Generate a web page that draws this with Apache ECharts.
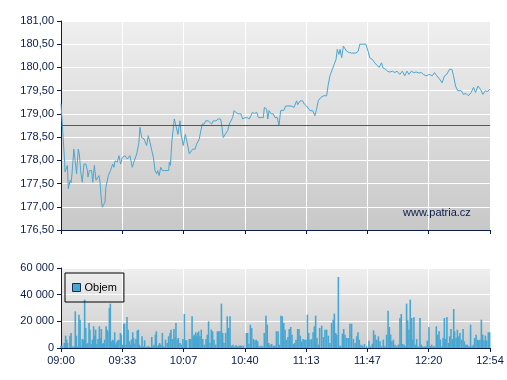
<!DOCTYPE html>
<html>
<head>
<meta charset="utf-8">
<script src="https://cdn.jsdelivr.net/npm/echarts@6/dist/echarts.min.js"></script>
<style>
html,body{margin:0;padding:0;background:#fff;}
#chart{width:507px;height:380px;}
</style>
</head>
<body>
<div id="chart"></div>
<script>
// ---- Data ----
// x-axis tick labels (session 09:00 - 12:54, 7 equal intervals)
var timeTicks = ["09:00","09:33","10:07","10:40","11:13","11:47","12:20","12:54"];
var sessionMinutes = 234;
// price: minutes after 09:00, price
var priceTimes = [0,1,2,2.2,3.5,4,5,5.5,6,7,8,8.5,9.4,10,10.7,11.6,12.5,13.6,14.4,14.7,15.5,16.7,17.3,18.2,19.1,20,20.7,21.3,21.8,22.5,23.5,24,24.5,25.8,27,28.2,28.9,29.5,30.7,31.6,32.5,33.4,34.9,36.2,37.6,38.9,40,41.3,42.4,43.1,44,45.3,46.7,47.6,48.5,49.5,50.4,51.3,52.2,52.7,53.5,54.4,55.3,56.5,57.5,58.7,59.1,59.7,60.5,61.1,61.8,62.7,63.8,64.9,65.5,66.7,67.8,68.6,70,70.7,71.8,73.1,74,74.5,75.4,76.2,77,78.1,78.9,80.3,81.3,82.2,83,84.5,85.8,87.1,87.8,88.5,89.6,90.9,91.8,92.6,93.6,94.4,95.5,96.7,98.2,99.1,100.4,101.6,102.7,103.5,104.4,105.5,106.8,107.6,110.4,110.9,112.2,112.8,113.5,114.6,115.8,116.7,118,118.9,119.8,121.6,122.5,123.6,124.5,125.5,126.2,127.1,128.5,129.1,130.4,131.8,132.7,134,134.9,135.8,137.3,138.5,139.4,140.3,141.6,142.5,143.2,144.9,145.8,146.7,148,148.9,150,150.7,151.6,152.2,153.1,154,154.5,155.8,157.2,158.5,160.9,162.1,163,166.3,167.5,168.4,169.9,171.1,172.1,173.5,174.8,175.6,177,178.1,179.3,180.8,182.1,183.3,184.8,186.2,187.5,188.7,189.8,191.1,192.3,193.8,195.2,196.5,197.7,199.2,201,202.5,203.7,205,206.5,207.9,209.2,210.4,211.9,213.2,214.1,215.2,216.4,218.3,219.5,221,222.2,223.7,225,226.1,227.4,228.8,230.1,231.4,232.5,234];
var prices = [179.22,178.6,177.95,177.75,177.89,177.39,177.57,177.52,177.71,178.24,178.24,177.71,178.24,178.14,177.78,177.53,177.92,177.92,177.78,177.64,177.78,177.78,177.53,177.89,177.57,177.57,177.67,177.53,177.24,176.99,176.99,177.1,177.42,177.67,177.78,177.92,177.85,177.99,177.96,178.1,177.92,178.06,178.1,178.03,178.1,177.85,177.99,178.14,178.35,178.71,178.49,178.46,178.32,178.53,178.39,178.39,178.06,177.78,177.71,177.78,177.67,177.85,177.78,177.78,177.78,177.78,177.96,177.89,178.42,178.46,178.89,178.85,178.56,178.85,178.56,178.32,178.56,178.42,178.14,178.14,178.24,178.24,178.35,178.32,178.46,178.49,178.78,178.78,178.85,178.85,178.89,178.78,178.85,178.85,178.89,178.89,178.71,178.49,178.56,178.64,178.78,178.78,178.92,179.07,179.03,179.0,179.0,178.89,178.92,178.92,178.89,178.85,179.03,179.01,179.03,178.92,178.92,179.14,179.1,178.89,179.07,179.0,179.0,178.92,178.92,178.74,179.07,179.08,179.17,179.17,179.14,179.17,179.21,179.14,179.28,179.2,179.28,179.28,179.21,179.17,179.14,179.07,179.07,178.96,179.1,179.28,179.35,179.35,179.39,179.39,179.64,179.82,179.96,179.92,180.17,180.39,180.28,180.39,180.21,180.46,180.5,180.35,180.32,180.31,180.31,180.35,180.5,180.5,180.35,180.21,180.17,180.1,180.13,180.0,180.1,179.99,179.96,179.92,179.9,179.92,179.89,179.92,179.85,179.92,179.82,179.92,179.85,179.92,179.89,179.9,179.88,179.89,179.85,179.82,179.85,179.82,179.89,179.82,179.75,179.67,179.82,179.85,179.96,179.96,179.82,179.6,179.5,179.5,179.42,179.44,179.39,179.46,179.57,179.46,179.6,179.53,179.42,179.5,179.48,179.53];
var previousClose = 178.75;
// volume: minutes after 09:00, traded volume
var volumeTimes = [0,0.6,1.8,2.5,3.1,3.6,4.9,5.5,6,7.1,7.8,8.4,9.1,9.8,10.4,10.9,11.6,12.2,12.9,13.5,14,14.7,15.3,15.8,16.4,17.1,17.8,18.4,18.9,19.6,20.2,20.9,21.5,22,22.6,23.1,23.8,24.6,25.1,25.6,26.4,26.9,27.5,28.2,28.7,29.3,29.8,30.4,30.9,31.6,32.4,32.9,33.6,34.2,34.7,35.5,36,36.6,37.3,37.8,38.4,39.1,39.6,40.2,40.9,41.6,42.2,42.7,43.5,44.2,44.9,45.6,46.4,47.1,47.8,48.6,49.5,50,50.7,51.5,52,52.6,53.3,53.8,54.5,55.3,56,57,58,58.7,59.5,60,60.7,61.6,62.2,62.7,63.5,64,64.9,65.8,66.5,67.3,67.8,68.5,70,70.7,71.5,72.2,72.7,73.5,74,74.5,75.1,75.8,76.5,77.3,78.2,79.1,79.8,80.5,81.3,82,82.7,83.5,84.4,85.3,86,86.7,87.5,88.2,88.9,89.8,90.7,91.5,92.2,92.9,93.8,94.7,95.5,96.2,97.1,97.8,98.5,99.5,101.1,101.8,102.5,103.3,104,104.9,105.8,106.5,107.3,108,109.1,110,110.9,111.8,112.5,113.3,114,114.9,115.8,116.7,117.5,118.4,119.1,120,120.7,121.5,122.2,122.9,123.8,124.5,125.3,126,126.7,127.5,128.2,129.1,129.8,130.5,131.3,132,132.7,133.6,134.4,135.1,135.8,136.7,137.5,138.2,138.9,139.6,140.4,141.1,142.2,143.1,144,144.9,145.8,146.7,147.6,148.5,149.1,149.8,150.4,151.3,151.8,152.5,153.5,154.2,154.9,155.8,156.7,157.6,158.5,159.5,160.4,161.3,162,162.7,163.6,164.5,165.5,166.7,168,168.9,169.8,170.5,171.3,172.2,173.1,174,174.9,175.8,176.7,177.6,178.4,179.1,179.8,180.5,181.3,182.2,183.1,184,184.9,185.6,186.4,187.1,187.8,188.5,189.1,189.8,190.5,191.3,191.8,192.5,193.3,194,194.9,195.8,196.5,197.3,198.2,199.1,199.8,200.7,201.4,202.2,203.1,203.8,204.7,205.5,206.2,206.9,207.8,208.4,209.1,209.8,210.5,211.3,212,212.7,213.5,214.2,214.7,215.5,216.2,216.9,217.6,218.5,219.3,220,220.9,221.6,222.5,223.4,224.2,224.9,225.6,226.4,227.1,227.8,228.5,229.3,230,230.7,231.5,232.2,233.1,233.8];
var volumes = [1750,1750,3750,9250,6250,3750,9250,11250,1250,1250,27500,9250,1250,25000,21250,1250,6750,6250,36250,15000,3000,3750,18750,13750,3000,6250,16250,9250,13750,3000,6750,16250,7500,14250,3000,3750,6250,16250,13750,12500,30000,33250,5000,6250,5000,11750,2500,4250,5750,6250,11250,10000,2500,18250,18250,2500,23250,13750,5000,2500,6250,11750,7500,3250,6750,13000,13750,2500,1250,8750,1250,5750,750,1250,1250,750,8250,1250,2500,10000,12500,1250,2500,3750,2500,11250,1250,6250,3750,8750,11250,13750,6750,14250,8250,18750,6250,7500,3750,2500,6750,25500,5750,5750,6750,6750,23750,8750,10000,11750,8750,11250,12500,8750,13750,6750,2500,6750,10000,20000,3750,13750,12500,6250,2500,12500,12500,12500,33250,11250,3750,11250,23750,15000,23750,1750,2500,1250,2000,1250,1750,1750,1750,1750,11250,11250,3250,17500,15000,6750,5750,6250,5000,1250,1750,1250,11250,24250,17500,3750,2500,3000,1750,1750,12500,12500,2500,24250,23750,18750,13750,6250,8250,14250,15750,10000,3000,3750,6250,14250,14250,9250,5000,6750,6250,6250,25000,11250,6250,6750,11750,16250,24250,7500,2500,15000,16750,8250,13750,13750,9250,3750,18750,21250,25750,11250,10000,53250,1250,1750,10750,14250,10000,7500,7500,18250,18250,6750,3750,8750,11750,6250,2500,1750,3000,1250,5500,1250,3250,13250,10000,6250,8750,5000,1250,6250,1250,10000,28000,15750,10000,5000,6250,2500,1250,2500,22500,25500,3000,2500,1250,33250,20750,13750,36250,22500,6250,23000,2500,6750,1250,22500,2500,1250,1250,1250,5500,15750,1250,2500,1250,1250,16250,10000,12500,6250,1250,7500,22500,6750,23250,3750,8750,14250,6750,29250,12500,7500,13750,8750,11250,6250,14250,5000,2500,2500,1250,17500,1250,2500,7500,10000,6250,5750,6250,21250,10000,5750,9250,5750,11750,11750];
var priceTicks = [176.5,177,177.5,178,178.5,179,179.5,180,180.5,181];
var volumeTicks = [0,20000,40000,60000];

// ---- Build ----
var priceData = priceTimes.map(function(t,i){return [t, prices[i]];});
var volData = volumeTimes.map(function(t,i){return [t, volumes[i]];});
var navy = '#0b1c4d';
var tickStep = sessionMinutes/(timeTicks.length-1);
var bg = function(top,bottom){
  return new echarts.graphic.LinearGradient(0,0,0,1,[{offset:0,color:top},{offset:1,color:bottom}]);
};
function xAxisCfg(idx, showLabels){
  return {
    type:'value', gridIndex:idx, min:0, max:sessionMinutes, interval:tickStep,
    axisLine:{show:true,lineStyle:{color:navy,width:1}},
    axisTick:{show:true,length:4,lineStyle:{color:navy}},
    axisLabel:{show:showLabels,color:navy,fontFamily:'Liberation Sans, Arial, sans-serif',fontSize:11,margin:7,
      formatter:function(v){return timeTicks[Math.round(v/tickStep)] || '';}},
    splitLine:{show:true,lineStyle:{color:'#ffffff',width:1}}
  };
}
var chart = echarts.init(document.getElementById('chart'), null, {renderer:'canvas'});
chart.setOption({
  animation:false,
  backgroundColor:'#ffffff',
  textStyle:{fontFamily:'Liberation Sans, Arial, sans-serif'},
  grid:[
    {left:61, top:21, width:429, height:209, show:true, borderWidth:0, backgroundColor:bg('#efefef','#c8c8c8')},
    {left:61, top:268, width:429, height:80, show:true, borderWidth:0, backgroundColor:bg('#efefef','#cdcdcd')}
  ],
  xAxis:[xAxisCfg(0,false), xAxisCfg(1,true)],
  yAxis:[
    {type:'value', gridIndex:0, min:priceTicks[0], max:priceTicks[priceTicks.length-1], interval:0.5,
      axisLine:{show:true,lineStyle:{color:navy}},
      axisTick:{show:true,length:4,lineStyle:{color:navy}},
      axisLabel:{color:navy,fontSize:11,margin:7,formatter:function(v){return v.toFixed(2).replace('.',',');}},
      splitLine:{show:true,lineStyle:{color:'#ffffff',width:1}}},
    {type:'value', gridIndex:1, min:volumeTicks[0], max:volumeTicks[volumeTicks.length-1], interval:20000,
      axisLine:{show:true,lineStyle:{color:navy}},
      axisTick:{show:true,length:4,lineStyle:{color:navy}},
      axisLabel:{color:navy,fontSize:11,margin:7,formatter:function(v){return String(v).replace(/\B(?=(\d{3})+(?!\d))/g,' ');}},
      splitLine:{show:true,lineStyle:{color:'#ffffff',width:1}}}
  ],
  legend:{
    data:[{name:'Objem', icon:'rect'}],
    left:65, top:273, orient:'horizontal',
    itemWidth:8, itemHeight:8, itemGap:5,
    padding:[9,7,9,7],
    borderColor:'#000000', borderWidth:1, backgroundColor:'transparent',
    textStyle:{color:'#000000',fontSize:11,padding:[0,0,0,-1]},
    itemStyle:{borderColor:'#1a2a4a',borderWidth:1}
  },
  graphic:[{
    type:'text', left:403, top:207, z:1,
    style:{text:'www.patria.cz', fill:navy, font:'11px "Liberation Sans", Arial, sans-serif'}
  }],
  series:[
    {name:'Cena', type:'line', xAxisIndex:0, yAxisIndex:0, data:priceData,
      showSymbol:false, symbol:'none', z:3,
      lineStyle:{color:'#4aa6d0', width:1}, itemStyle:{color:'#4aa6d0'},
      markLine:{silent:true, symbol:'none', label:{show:false},
        lineStyle:{color:'#b8302c', type:'solid', width:1},
        data:[{yAxis:previousClose}]}},
    {name:'Objem', type:'bar', xAxisIndex:1, yAxisIndex:1, data:volData,
      barWidth:1.6, itemStyle:{color:'#47a7d2'}}
  ]
});
</script>
</body>
</html>
